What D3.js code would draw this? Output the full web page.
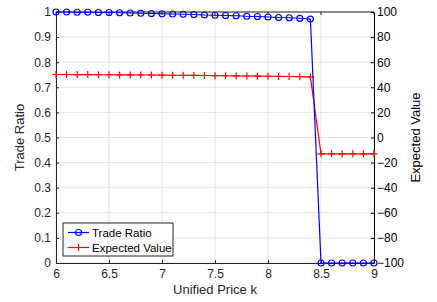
<!DOCTYPE html>
<html>
<head>
<meta charset="utf-8">
<script src="https://cdn.jsdelivr.net/npm/d3@7"></script>
<style>
  body { margin: 0; background: #fff; }
  text { font-family: "Liberation Sans", Arial, sans-serif; }
</style>
</head>
<body>
<svg width="437" height="302"></svg>
<script>
const svg = d3.select('svg');

// price k from 6.0 to 9.0
const prices = [6.0, 6.1, 6.2, 6.3, 6.4, 6.5, 6.6, 6.7, 6.8, 6.9, 7.0, 7.1, 7.2, 7.3, 7.4, 7.5, 7.6, 7.7, 7.8, 7.9, 8.0, 8.1, 8.2, 8.3, 8.4, 8.5, 8.6, 8.7, 8.8, 8.9, 9.0];
const tradeRatio = [1.000, 1.000, 0.999, 0.999, 0.998, 0.998, 0.997, 0.996, 0.995, 0.994, 0.993, 0.992, 0.991, 0.990, 0.988, 0.987, 0.986, 0.985, 0.983, 0.982, 0.980, 0.978, 0.977, 0.975, 0.972, 0, 0, 0, 0, 0, 0];
const expectedValue = [50.2, 50.2, 50.1, 50.1, 50.0, 50.0, 49.9, 49.9, 49.8, 49.8, 49.7, 49.6, 49.6, 49.5, 49.4, 49.3, 49.2, 49.1, 49.0, 48.9, 48.8, 48.7, 48.6, 48.5, 48.3, -13, -13, -13, -13, -13, -13];
const xTicks = [6, 6.5, 7, 7.5, 8, 8.5, 9];
const leftTicks = [0, 0.1, 0.2, 0.3, 0.4, 0.5, 0.6, 0.7, 0.8, 0.9, 1];
const rightTicks = [-100, -80, -60, -40, -20, 0, 20, 40, 60, 80, 100];

const margin = {top: 12, right: 63, bottom: 39, left: 56};
const W = 437, H = 302;
const x = d3.scaleLinear().domain([6, 9]).range([margin.left, W - margin.right]);
const yL = d3.scaleLinear().domain([0, 1]).range([H - margin.bottom, margin.top]);
const yR = d3.scaleLinear().domain([-100, 100]).range([H - margin.bottom, margin.top]);

// grid
const grid = svg.append('g');
grid.selectAll('.gx').data(xTicks).join('line')
  .attr('x1', d => x(d)).attr('x2', d => x(d))
  .attr('y1', margin.top).attr('y2', H - margin.bottom)
  .attr('stroke', '#e3e3e3').attr('stroke-width', 1);
grid.selectAll('.gy').data(leftTicks).join('line')
  .attr('x1', margin.left).attr('x2', W - margin.right)
  .attr('y1', d => yL(d)).attr('y2', d => yL(d))
  .attr('stroke', '#e3e3e3').attr('stroke-width', 1);

// top box line
svg.append('line')
  .attr('x1', margin.left).attr('x2', W - margin.right)
  .attr('y1', margin.top).attr('y2', margin.top)
  .attr('stroke', '#262626');

// axes
const fmtX = d => d3.format('')(d);
const xAxis = svg.append('g')
  .attr('transform', `translate(0,${H - margin.bottom})`)
  .call(d3.axisBottom(x).tickValues(xTicks).tickFormat(fmtX).tickSizeInner(-3).tickSizeOuter(0).tickPadding(6));
const yAxisL = svg.append('g')
  .attr('transform', `translate(${margin.left},0)`)
  .call(d3.axisLeft(yL).tickValues(leftTicks).tickFormat(d => d3.format('')(d)).tickSizeInner(-3).tickSizeOuter(0).tickPadding(5));
const yAxisR = svg.append('g')
  .attr('transform', `translate(${W - margin.right},0)`)
  .call(d3.axisRight(yR).tickValues(rightTicks).tickSizeInner(-3).tickSizeOuter(0).tickPadding(3));

// top tick marks on x
svg.append('g').selectAll('line').data(xTicks).join('line')
  .attr('x1', d => x(d)).attr('x2', d => x(d))
  .attr('y1', margin.top).attr('y2', margin.top + 3)
  .attr('stroke', '#262626');

[xAxis, yAxisL].forEach(g => {
  g.selectAll('path, line').attr('stroke', '#262626');
  g.selectAll('text').attr('fill', '#262626').style('font-size', '12px');
});
yAxisR.selectAll('path, line').attr('stroke', '#000');
yAxisR.selectAll('text').attr('fill', '#000').style('font-size', '12px');
xAxis.select('.domain').attr('stroke-width', 1);

// axis labels
svg.append('text').attr('x', 215).attr('y', 294).attr('text-anchor', 'middle')
  .attr('fill', '#262626').style('font-size', '13px').text('Unified Price k');
svg.append('text').attr('transform', `translate(24,${(margin.top + H - margin.bottom) / 2}) rotate(-90)`)
  .attr('text-anchor', 'middle').attr('fill', '#262626').style('font-size', '13px').text('Trade Ratio');
svg.append('text').attr('transform', `translate(420,${(margin.top + H - margin.bottom) / 2}) rotate(-90)`)
  .attr('text-anchor', 'middle').attr('fill', '#000').style('font-size', '13px').text('Expected Value');

// lines
const ratioData = prices.map((p, i) => ({p, v: tradeRatio[i]}));
const evData = prices.map((p, i) => ({p, v: expectedValue[i]}));

svg.append('path').datum(evData)
  .attr('fill', 'none').attr('stroke', '#ff0000').attr('stroke-width', 1.2)
  .attr('d', d3.line().x(d => x(d.p)).y(d => yR(d.v)));
const plus = d3.symbol().type(d3.symbolCross);
svg.append('g').selectAll('path').data(evData).join('path')
  .attr('transform', d => `translate(${x(d.p)},${yR(d.v)})`)
  .attr('d', 'M-3.5,0H3.5M0,-3.5V3.5')
  .attr('stroke', '#ff0000').attr('stroke-width', 1.2).attr('fill', 'none');

svg.append('path').datum(ratioData)
  .attr('fill', 'none').attr('stroke', '#0000ff').attr('stroke-width', 1.2)
  .attr('d', d3.line().x(d => x(d.p)).y(d => yL(d.v)));
svg.append('g').selectAll('circle').data(ratioData).join('circle')
  .attr('cx', d => x(d.p)).attr('cy', d => yL(d.v)).attr('r', 3)
  .attr('stroke', '#0000ff').attr('stroke-width', 1.2).attr('fill', 'none');

// legend
const lg = svg.append('g').attr('transform', 'translate(63,223)');
lg.append('rect').attr('width', 110).attr('height', 33)
  .attr('fill', '#fff').attr('stroke', '#262626').attr('stroke-width', 1);
lg.append('line').attr('x1', 5).attr('x2', 26).attr('y1', 9.5).attr('y2', 9.5)
  .attr('stroke', '#0000ff').attr('stroke-width', 1.2);
lg.append('circle').attr('cx', 15.5).attr('cy', 9.5).attr('r', 3)
  .attr('stroke', '#0000ff').attr('stroke-width', 1.2).attr('fill', 'none');
lg.append('text').attr('x', 29).attr('y', 13.5).style('font-size', '11.5px').attr('fill', '#000').text('Trade Ratio');
lg.append('line').attr('x1', 5).attr('x2', 26).attr('y1', 24.5).attr('y2', 24.5)
  .attr('stroke', '#ff0000').attr('stroke-width', 1.2);
lg.append('path').attr('transform', 'translate(15.5,24.5)').attr('d', 'M-3.5,0H3.5M0,-3.5V3.5')
  .attr('stroke', '#ff0000').attr('stroke-width', 1.2);
lg.append('text').attr('x', 29).attr('y', 28.5).style('font-size', '11.5px').attr('fill', '#000').text('Expected Value');
</script>
</body>
</html>
